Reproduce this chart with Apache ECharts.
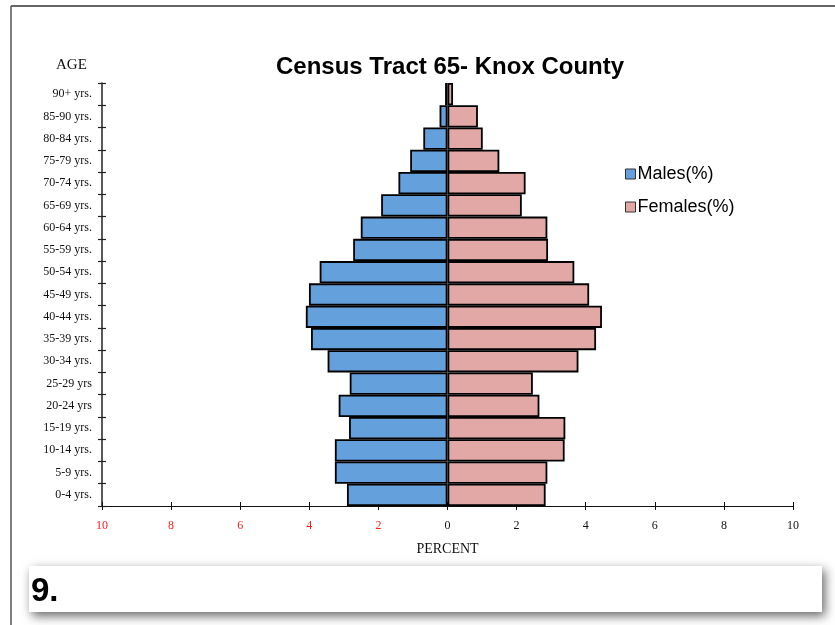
<!DOCTYPE html>
<html>
<head>
<meta charset="utf-8">
<script src="https://cdn.jsdelivr.net/npm/echarts@6/dist/echarts.min.js"></script>
<style>
  html, body { margin: 0; padding: 0; background: #fff; }
  #chart { width: 835px; height: 625px; }
</style>
</head>
<body>
<div id="chart"></div>
<script>
// age groups, bottom to top
const ageGroups = [
  '0-4 yrs.', '5-9 yrs.', '10-14 yrs.', '15-19 yrs.', '20-24 yrs', '25-29 yrs',
  '30-34 yrs.', '35-39 yrs.', '40-44 yrs.', '45-49 yrs.', '50-54 yrs.', '55-59 yrs.',
  '60-64 yrs.', '65-69 yrs.', '70-74 yrs.', '75-79 yrs.', '80-84 yrs.', '85-90 yrs.', '90+ yrs.'
];
// percentages
const males = [2.91, 3.26, 3.26, 2.85, 3.15, 2.83, 3.47, 3.95, 4.10, 4.01, 3.70, 2.73, 2.51, 1.92, 1.42, 1.08, 0.70, 0.23, 0.07];
const females = [2.84, 2.89, 3.39, 3.41, 2.66, 2.47, 3.79, 4.30, 4.47, 4.10, 3.67, 2.91, 2.89, 2.15, 2.26, 1.50, 1.02, 0.88, 0.16];

const serif = '"Liberation Serif", "Times New Roman", serif';
const sans = '"Liberation Sans", Arial, sans-serif';

const chart = echarts.init(document.getElementById('chart'));

const grid = { left: 102, right: 42, top: 83, bottom: 119 };

const option = {
  animation: false,
  color: ['#64a0dc', '#e1a8a6'],

  title: {
    text: 'Census Tract 65- Knox County',
    left: 271,
    top: 50,
    textStyle: { fontFamily: sans, fontSize: 24, fontWeight: 'bold', color: '#000' }
  },

  legend: {
    orient: 'vertical',
    left: 620,
    top: 160,
    itemWidth: 10,
    itemHeight: 10,
    itemGap: 15,
    icon: 'rect',
    textStyle: { fontFamily: sans, fontSize: 18, color: '#000', padding: [0, 0, 0, -3] },
    itemStyle: { borderColor: '#333', borderWidth: 1 },
    data: ['Males(%)', 'Females(%)']
  },

  grid: grid,

  xAxis: [
    {
      type: 'value',
      min: -10,
      max: 10,
      interval: 2,
      name: 'PERCENT',
      nameLocation: 'middle',
      nameGap: 36,
      nameTextStyle: { fontFamily: serif, fontSize: 14, color: '#111' },
      splitLine: { show: false },
      axisLine: { show: true, lineStyle: { color: '#111', width: 1 } },
      axisTick: { show: true, length: 4, lineStyle: { color: '#111' } },
      axisLabel: {
        margin: 14,
        fontFamily: serif,
        fontSize: 12,
        formatter: v => Math.abs(v),
        color: v => (v < 0 ? '#ff1a1a' : '#111')
      }
    },
    {
      // second copy only for the inner half of the ticks
      type: 'value',
      min: -10,
      max: 10,
      interval: 2,
      position: 'bottom',
      splitLine: { show: false },
      axisLine: { show: false },
      axisTick: { show: true, inside: true, length: 4, lineStyle: { color: '#111' } },
      axisLabel: { show: false }
    }
  ],

  yAxis: [
    {
      type: 'category',
      data: ageGroups,
      axisLine: { show: true, onZero: false, lineStyle: { color: '#222', width: 1.5 } },
      axisTick: { show: true, length: 4, lineStyle: { color: '#222', width: 1.2 } },
      axisLabel: { margin: 10, fontFamily: serif, fontSize: 12, color: '#111', padding: [4, 0, 0, 0] }
    },
    {
      type: 'category',
      data: ageGroups,
      position: 'left',
      axisLine: { show: false, onZero: false },
      axisTick: { show: true, inside: true, length: 4, lineStyle: { color: '#222', width: 1.2 } },
      axisLabel: { show: false }
    }
  ],

  series: [
    {
      name: 'Males(%)',
      type: 'bar',
      stack: 'pyramid',
      barCategoryGap: '0%',
      data: males.map(v => -v),
      itemStyle: { borderColor: '#000', borderWidth: 1.8 }
    },
    {
      name: 'Females(%)',
      type: 'bar',
      stack: 'pyramid',
      barCategoryGap: '0%',
      data: females,
      itemStyle: { borderColor: '#000', borderWidth: 1.8 }
    }
  ],

  graphic: [
    // page frame
    { type: 'line', shape: { x1: 11, y1: 6, x2: 835, y2: 6 }, style: { stroke: '#333', lineWidth: 1.5 } },
    { type: 'line', shape: { x1: 11, y1: 6, x2: 11, y2: 625 }, style: { stroke: '#555', lineWidth: 1.5 } },
    {
      type: 'text',
      left: 56,
      top: 58,
      style: { text: 'AGE', fontFamily: serif, fontSize: 15, fill: '#111' }
    },
    // answer box below the chart
    {
      type: 'rect',
      shape: { x: 29, y: 566, width: 793, height: 46 },
      style: {
        fill: '#fff',
        shadowBlur: 10,
        shadowOffsetX: 3,
        shadowOffsetY: 4,
        shadowColor: 'rgba(0,0,0,0.6)'
      }
    },
    {
      type: 'text',
      left: 31,
      top: 575,
      style: { text: '9.', fontFamily: sans, fontSize: 33, fontWeight: 'bold', fill: '#000' }
    }
  ]
};

chart.setOption(option);
</script>
</body>
</html>
